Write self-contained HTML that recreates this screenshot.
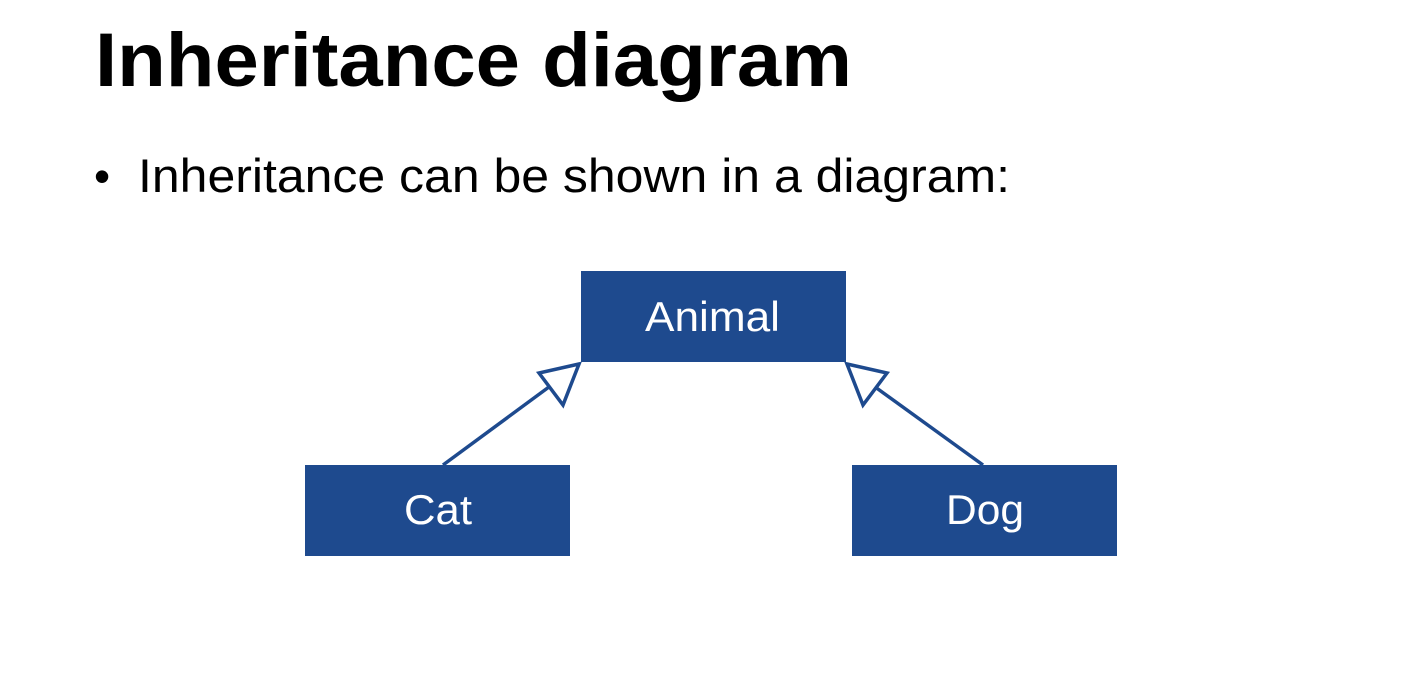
<!DOCTYPE html>
<html><head><style>
body{margin:0;background:#fff;width:1413px;height:691px;overflow:hidden;font-family:"Liberation Sans",Arial,sans-serif;}
</style></head><body>
<svg width="1413" height="691" xmlns="http://www.w3.org/2000/svg" style="position:absolute;left:0;top:0">
<text x="95" y="86" font-family="Liberation Sans, Arial, sans-serif" font-weight="bold" font-size="76" fill="#000" textLength="757" lengthAdjust="spacingAndGlyphs">Inheritance diagram</text>
<text x="94" y="192" font-family="Liberation Sans, Arial, sans-serif" font-size="46" fill="#000">•</text>
<text x="138" y="192" font-family="Liberation Sans, Arial, sans-serif" font-size="47" fill="#000" textLength="872" lengthAdjust="spacingAndGlyphs">Inheritance can be shown in a diagram:</text>
<rect x="581" y="271" width="265" height="91" fill="#1e4a8e"/>
<rect x="305" y="465" width="265" height="91" fill="#1e4a8e"/>
<rect x="852" y="465" width="265" height="91" fill="#1e4a8e"/>
<text x="645" y="331" font-family="Liberation Sans, Arial, sans-serif" font-size="42" fill="#fff" textLength="135" lengthAdjust="spacingAndGlyphs">Animal</text>
<text x="404" y="524" font-family="Liberation Sans, Arial, sans-serif" font-size="42" fill="#fff" textLength="68" lengthAdjust="spacingAndGlyphs">Cat</text>
<text x="946" y="524" font-family="Liberation Sans, Arial, sans-serif" font-size="42" fill="#fff" textLength="78" lengthAdjust="spacingAndGlyphs">Dog</text>
<g stroke="#1e4a8e" stroke-width="3.5" fill="#fff">
<line x1="443" y1="465" x2="553" y2="384"/>
<polygon points="579,364 539,373 563,405"/>
<line x1="983" y1="465" x2="871" y2="384"/>
<polygon points="847,364 887,373 863,405"/>
</g>
</svg>
</body></html>
